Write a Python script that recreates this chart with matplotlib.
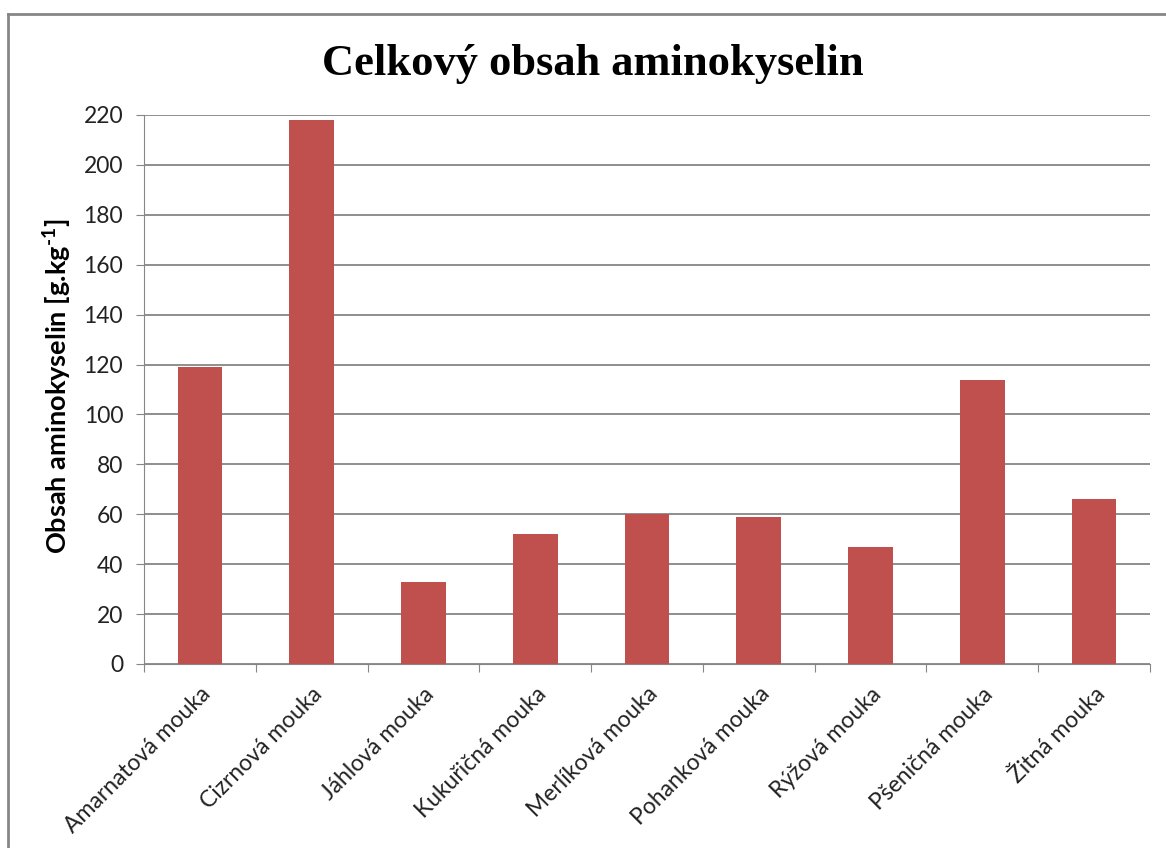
import matplotlib.pyplot as plt
from matplotlib.lines import Line2D
import numpy as np

# Data
kategorie = ['Amarnatová mouka', 'Cizrnová mouka', 'Jáhlová mouka', 'Kukuřičná mouka',
             'Merlíková mouka', 'Pohanková mouka', 'Rýžová mouka', 'Pšeničná mouka',
             'Žitná mouka']
obsah = [119, 218, 33, 52, 60, 59, 47, 114, 66]
y_ticks = list(range(0, 221, 20))

bar_color = '#C0504D'
grid_color = '#868686'

plt.rcParams['mathtext.fontset'] = 'custom'
plt.rcParams['mathtext.rm'] = 'Lato:bold'
plt.rcParams['mathtext.bf'] = 'Lato:bold'

fig = plt.figure(figsize=(11.66, 8.48), dpi=100)
ax = fig.add_axes([0.1235, 0.2170, 0.9863 - 0.1235, 0.8644 - 0.2170])

x = np.arange(len(kategorie))
ax.bar(x, obsah, width=0.4, color=bar_color, zorder=3)

ax.set_xlim(-0.5, len(kategorie) - 0.5)
ax.set_ylim(0, 220)
ax.set_yticks(y_ticks)
ax.set_yticklabels([str(v) for v in y_ticks], fontsize=16.5, family='Lato', color='#222222')

# ticks at category boundaries, labels at centers
ax.set_xticks(np.arange(-0.5, len(kategorie), 1.0))
ax.set_xticklabels([])
ax.set_xticks(x, minor=True)
ax.set_xticklabels(kategorie, minor=True, rotation=45, ha='right', va='top',
                   rotation_mode='anchor', fontsize=16.5, family='Lato', color='#222222')
ax.tick_params(axis='x', which='minor', length=0, pad=14)
ax.tick_params(axis='x', which='major', length=6, color=grid_color, direction='out')
ax.tick_params(axis='y', length=6, color=grid_color, direction='out', pad=9)

ax.grid(axis='y', color=grid_color, linewidth=1.3, zorder=0)
for s in ['top', 'right']:
    ax.spines[s].set_visible(False)
ax.spines['left'].set_color(grid_color)
ax.spines['bottom'].set_color(grid_color)

ax.set_ylabel('Obsah aminokyselin [g.kg$^{\\text{-1}}$]', fontsize=19.5, fontweight='bold',
              family='Lato')
ax.yaxis.set_label_coords(-0.07, 0.505)

fig.text(0.508, 0.925, 'Celkový obsah aminokyselin', ha='center', va='center',
         fontsize=32, fontweight='bold', family='Liberation Serif')

# outer chart frame (cut at right and bottom)
fig.add_artist(Line2D([8 / 1166, 8 / 1166], [0, 1 - 14 / 848], color=grid_color, linewidth=2,
                      transform=fig.transFigure))
fig.add_artist(Line2D([8 / 1166, 1], [1 - 14 / 848, 1 - 14 / 848], color=grid_color, linewidth=2,
                      transform=fig.transFigure))

plt.savefig('out.png', dpi=100)
